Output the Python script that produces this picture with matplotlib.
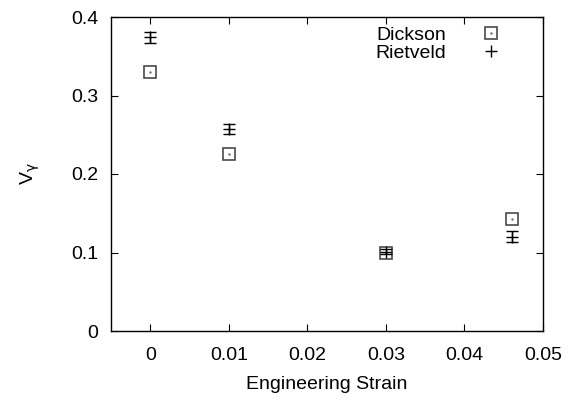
import matplotlib
matplotlib.use("Agg")
import matplotlib.pyplot as plt

strain_d = [0.0, 0.01, 0.03, 0.046]
vg_d = [0.330, 0.226, 0.100, 0.143]
strain_r = [0.0, 0.01, 0.03, 0.046]
vg_r = [0.374, 0.257, 0.101, 0.120]
err_r = [0.0074, 0.0065, 0.003, 0.0068]

xticks = [0, 0.01, 0.02, 0.03, 0.04, 0.05]
xticklabels = ["0", "0.01", "0.02", "0.03", "0.04", "0.05"]
yticks = [0, 0.1, 0.2, 0.3, 0.4]
yticklabels = ["0", "0.1", "0.2", "0.3", "0.4"]

FS = 14
plt.rcParams['font.family'] = ['Liberation Sans', 'DejaVu Sans']
fig = plt.figure(figsize=(5.69, 4.0), dpi=100)
ax = fig.add_axes([111/569, 1 - 331/400, (543-111)/569, (331-17)/400])

sq_style = dict(linestyle='none', marker='s', markersize=8,
                markerfacecolor='white', markeredgecolor='#4a4a4a', markeredgewidth=1.2)
dot_style = dict(linestyle='none', marker='.', markersize=1.5, color='#707070')

ax.plot(strain_d, vg_d, **sq_style)
ax.plot(strain_d, vg_d, **dot_style)
ax.errorbar(strain_r, vg_r, yerr=err_r, linestyle='none', marker='+', markersize=8,
            color='black', mew=1.0, elinewidth=1.0, capsize=4, capthick=1.0)

ax.set_xlim(-0.005, 0.05)
ax.set_ylim(0, 0.4)
ax.set_xticks(xticks)
ax.set_xticklabels(xticklabels)
ax.set_yticks(yticks)
ax.set_yticklabels(yticklabels)
ax.tick_params(direction='in', top=True, right=True, length=5, labelsize=FS)
ax.tick_params(axis='x', pad=11.5)
ax.tick_params(axis='y', pad=9)
for s in ax.spines.values():
    s.set_linewidth(1.0)
ax.set_xlabel("Engineering Strain", fontsize=FS, labelpad=9)
ax.set_ylabel(r"V$_\mathrm{\gamma}$", fontsize=FS, labelpad=21)

# legend (gnuplot style: right-justified text, sample on right)
ax.text(446/569, 1 - 35.5/400, "Dickson", transform=fig.transFigure, ha='right', va='center', fontsize=FS)
ax.text(446/569, 1 - 53.5/400, "Rietveld", transform=fig.transFigure, ha='right', va='center', fontsize=FS)
ax.plot([491/569], [1 - 33.3/400], transform=fig.transFigure, clip_on=False, **sq_style)
ax.plot([491/569], [1 - 33.3/400], transform=fig.transFigure, clip_on=False, **dot_style)
ax.plot([491/569], [1 - 50.7/400], transform=fig.transFigure, marker='+', markersize=8,
        color='black', mew=1.0, clip_on=False)

fig.savefig("out.png", dpi=100)
